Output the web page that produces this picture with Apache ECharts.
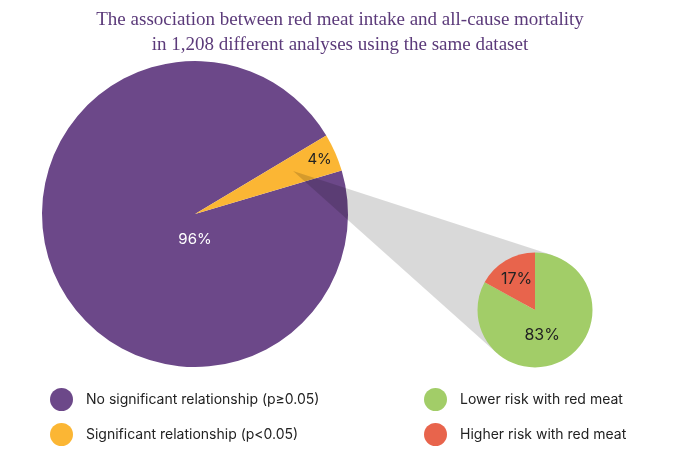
<!DOCTYPE html>
<html>
<head>
<meta charset="utf-8">
<script src="https://cdn.jsdelivr.net/npm/echarts@6/dist/echarts.min.js"></script>
<style>
  html, body { margin: 0; padding: 0; background: #fff; }
  #main { width: 680px; height: 461px; }
</style>
</head>
<body>
<div id="main"></div>
<script>
// data
var mainNames = ['No significant relationship (p≥0.05)', 'Significant relationship (p<0.05)'];
var mainValues = [96, 4];
var mainColors = ['#6c4889', '#fbb634'];
var subNames = ['Lower risk with red meat', 'Higher risk with red meat'];
var subValues = [83, 17];
var subColors = ['#a2cd68', '#e8644c'];

// layout
var bigCenter = [195, 214], bigR = 153, bigStart = 16.5;
var smallCenter = [535, 310], smallR = 57.5, smallStart = 90;
var labelFont = 'Inter';

function total(arr) {
    return arr.reduce(function (a, b) { return a + b; }, 0);
}

// connector: from inside the 4% slice, tangent to the small pie
var sliceMid = (bigStart + 360 * mainValues[1] / total(mainValues) / 2) * Math.PI / 180;
var apex = [bigCenter[0] + 0.7 * bigR * Math.cos(sliceMid), bigCenter[1] - 0.7 * bigR * Math.sin(sliceMid)];
var ddx = apex[0] - smallCenter[0], ddy = apex[1] - smallCenter[1];
var dist = Math.sqrt(ddx * ddx + ddy * ddy);
var base = Math.atan2(ddy, ddx);
var delta = Math.acos(smallR / dist);
var t1 = [smallCenter[0] + smallR * Math.cos(base + delta), smallCenter[1] + smallR * Math.sin(base + delta)];
var t2 = [smallCenter[0] + smallR * Math.cos(base - delta), smallCenter[1] + smallR * Math.sin(base - delta)];

var bigData = mainValues.map(function (v, i) {
    return {
        name: mainNames[i], value: v,
        itemStyle: { color: mainColors[i] },
        label: i === 0
            ? { show: true, position: 'center', color: '#fff', fontSize: 15, fontFamily: labelFont, formatter: '{c}%' }
            : { show: false }
    };
});
var bigRingData = mainValues.map(function (v, i) {
    return {
        name: mainNames[i], value: v,
        itemStyle: { color: 'rgba(0,0,0,0)' },
        label: { show: i === 1, position: 'inside', color: '#222', fontSize: 15, fontFamily: labelFont, formatter: '{c}%' }
    };
});
var smallData = subValues.map(function (v, i) {
    return {
        name: subNames[i], value: v,
        itemStyle: { color: subColors[i] },
        label: { show: i === 0, position: 'inside', color: '#222', fontSize: 16, fontFamily: labelFont, formatter: '{c}%' }
    };
});
var smallRingData = subValues.map(function (v, i) {
    return {
        name: subNames[i], value: v,
        itemStyle: { color: 'rgba(0,0,0,0)' },
        label: { show: i === 1, position: 'inside', color: '#222', fontSize: 16, fontFamily: labelFont, formatter: '{c}%' }
    };
});

var legendBase = {
    orient: 'vertical',
    top: 388,
    padding: 0,
    icon: 'circle',
    itemWidth: 23,
    itemHeight: 23,
    itemGap: 12,
    selectedMode: false,
    itemStyle: { borderWidth: 0 },
    textStyle: { fontFamily: labelFont, fontSize: 14, color: '#222', padding: [0, 0, 0, 8] }
};

var myChart = echarts.init(document.getElementById('main'));
myChart.setOption({
    animation: false,
    title: {
        text: 'The association between red meat intake and all-cause mortality\nin 1,208 different analyses using the same dataset',
        left: 'center',
        top: 8,
        padding: 0,
        textStyle: {
            fontFamily: 'Liberation Serif',
            fontWeight: 'normal',
            fontSize: 19,
            lineHeight: 25,
            color: '#5b3a7a'
        }
    },
    legend: [
        Object.assign({}, legendBase, { left: 50, data: mainNames }),
        Object.assign({}, legendBase, { left: 424, data: subNames })
    ],
    graphic: [{
        type: 'polygon',
        z: 5,
        silent: true,
        shape: { points: [apex, t1, t2] },
        style: { fill: 'rgba(0,0,0,0.15)' }
    }],
    series: [
        {
            type: 'pie', z: 2, silent: true,
            center: bigCenter, radius: bigR, startAngle: bigStart,
            labelLine: { show: false },
            labelLayout: { dy: 25 },
            data: bigData
        },
        {
            type: 'pie', z: 3, silent: true,
            center: bigCenter, radius: [bigR * 0.74, bigR], startAngle: bigStart,
            labelLine: { show: false },
            data: bigRingData
        },
        {
            type: 'pie', z: 10, silent: true,
            center: smallCenter, radius: smallR, startAngle: smallStart,
            labelLine: { show: false },
            labelLayout: { dx: -9, dy: -2 },
            data: smallData
        },
        {
            type: 'pie', z: 11, silent: true,
            center: smallCenter, radius: [smallR * 0.2, smallR * 0.95], startAngle: smallStart,
            labelLine: { show: false },
            data: smallRingData
        }
    ]
});
</script>
</body>
</html>
